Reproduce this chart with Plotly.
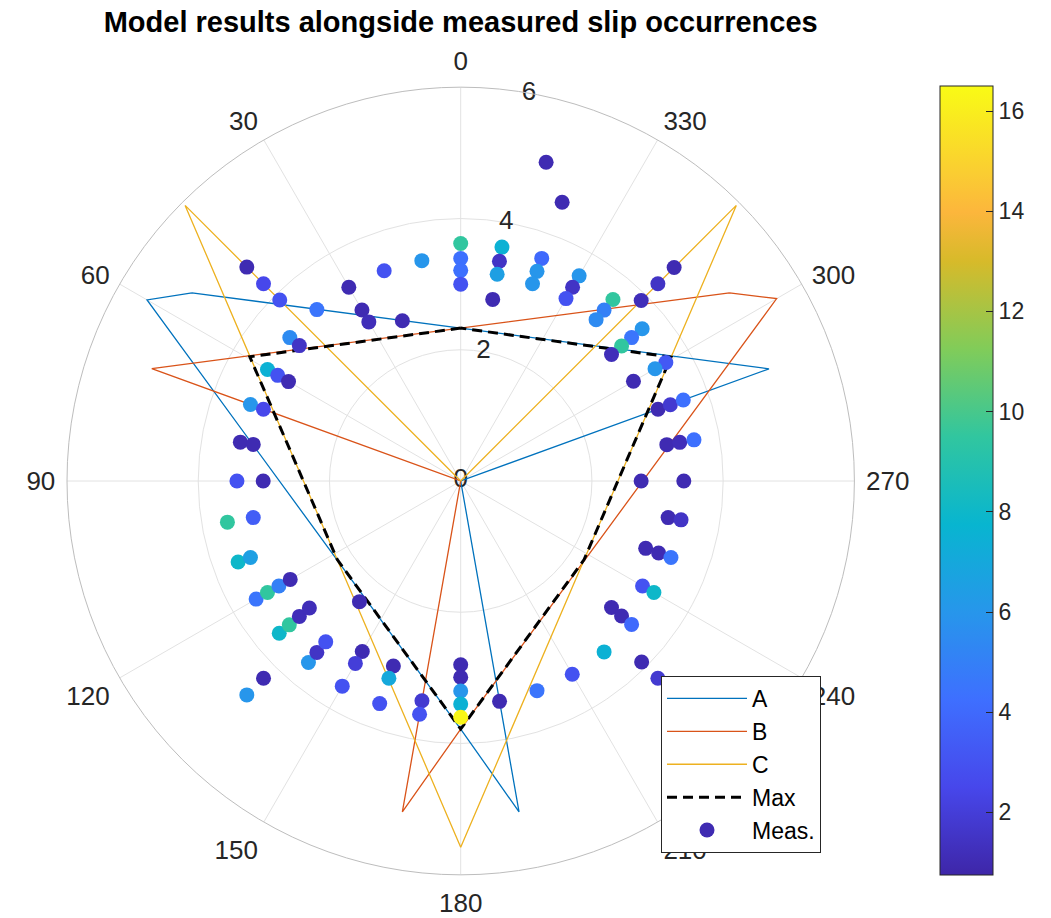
import plotly.graph_objects as go

# ---------------- data ----------------
tick_angles = [0, 30, 60, 90, 120, 150, 180, 210, 240, 270, 300, 330]
tick_labels = [str(a) for a in tick_angles]
radial_ticks = [0, 2, 4, 6]

# model curves (vertices, degrees / radius)
a_theta = [55, 60, 180, 190, 240, 290, 55]
a_r = [5.00, 5.52, 3.78, 5.12, 0.0, 5.00, 5.00]

b_theta = [305, 300, 180, 170, 120, 70, 305]
b_r = [5.00, 5.56, 3.78, 5.12, 0.0, 5.01, 5.00]

c_theta = [0, 45, 180, 315, 0]
c_r = [0.0, 5.94, 5.58, 5.94, 0.0]

max_theta = [0, 59.5, 122.5, 180, 237.5, 300.5, 360]
max_r = [2.33, 3.73, 2.23, 3.78, 2.23, 3.72, 2.33]

# measured slip occurrences
meas_theta = [345, 340, 340, 340, 340,
              0, 0, 0, 0,
              10, 20, 20, 30, 30, 30, 40,
              45, 45, 45, 50, 50, 60, 60, 60, 70, 70, 80, 80, 90, 90,
              100, 100, 110, 110, 120, 120, 120, 120,
              130, 130, 130, 130, 135, 135, 140, 140, 140, 140,
              150, 150, 150, 160, 160, 160, 170, 170,
              180, 180, 180, 180, 180, 190, 200, 210, 220, 225, 225,
              230, 230, 230, 240, 240, 250, 250, 250, 260, 260, 270, 270,
              280, 280, 280, 290, 290, 290, 300, 300, 300,
              310, 310, 310, 310, 315, 315, 315, 320, 320, 320,
              330, 330, 330, 350, 350, 350, 350]
meas_r = [5.03, 4.52, 3.61, 3.40, 3.20,
          3.62, 3.39, 3.21, 3.00,
          3.41, 3.41, 2.60, 3.41, 3.01, 2.80, 3.41,
          3.90, 4.25, 4.61, 3.40, 3.21, 3.40, 3.22, 3.03, 3.41, 3.20, 3.41, 3.21, 3.41, 3.01,
          3.61, 3.21, 3.61, 3.41, 3.60, 3.40, 3.20, 3.00,
          3.61, 3.41, 3.21, 3.01, 4.25, 4.61, 3.61, 3.41, 3.20, 2.40,
          3.00, 3.21, 3.61, 3.00, 3.20, 3.61, 3.40, 3.61,
          2.80, 2.99, 3.20, 3.40, 3.60, 3.41, 3.40, 3.40, 3.40, 3.90, 4.25,
          3.00, 3.20, 3.40, 3.20, 3.40, 3.00, 3.21, 3.41, 3.21, 3.41, 2.75, 3.40,
          3.19, 3.39, 3.61, 3.20, 3.40, 3.61, 3.61, 3.42, 3.04,
          3.61, 3.40, 3.20, 3.00, 3.89, 4.25, 4.60, 3.61, 3.40, 3.21,
          3.61, 3.41, 3.21, 3.62, 3.40, 3.20, 2.81]
meas_value = [1.0, 1.0, 4.0, 6.0, 6.0,
              9.5, 4.3, 4.3, 3.0,
              6.0, 3.0, 1.0, 1.0, 1.0, 1.2, 4.5,
              3.0, 2.5, 1.0, 5.5, 1.5, 7.5, 3.0, 1.0, 6.0, 2.5, 1.0, 1.0, 3.0, 1.0,
              9.5, 3.5, 8.0, 6.5, 4.5, 9.5, 5.0, 1.0,
              8.0, 9.5, 1.2, 1.2, 1.0, 6.0, 6.0, 1.5, 3.0, 1.0,
              1.0, 2.0, 3.0, 1.0, 7.0, 3.0, 1.8, 3.0,
              1.0, 1.0, 6.0, 7.5, 16.3, 1.0, 4.5, 3.0, 7.5, 1.0, 1.8,
              1.0, 1.0, 4.0, 3.0, 8.0, 1.0, 1.0, 4.5, 1.0, 1.5, 1.0, 1.0,
              1.0, 1.2, 4.3, 1.0, 1.8, 4.3, 3.3, 6.0, 1.0,
              6.0, 4.5, 9.5, 1.2, 1.2, 1.5, 1.0, 9.5, 5.0, 5.5,
              6.0, 1.5, 3.0, 7.5, 1.5, 6.5, 1.0]

# ---------------- style ----------------
parula = [
    [0.0, 'rgb(62,38,168)'],
    [0.111, 'rgb(71,71,235)'],
    [0.222, 'rgb(62,111,255)'],
    [0.333, 'rgb(39,150,235)'],
    [0.444, 'rgb(8,181,208)'],
    [0.556, 'rgb(49,198,159)'],
    [0.667, 'rgb(129,204,89)'],
    [0.778, 'rgb(215,186,42)'],
    [0.84, 'rgb(252,182,60)'],
    [0.889, 'rgb(250,205,50)'],
    [1.0, 'rgb(249,251,21)'],
]
FONT = "Liberation Sans, Arial, Helvetica, sans-serif"
TXT = '#262626'
W, H = 1051, 918
cx, cy, R = 460.7, 481.0, 393.7

fig = go.Figure()

fig.add_trace(go.Scatterpolar(r=radial_ticks, theta=[350] * len(radial_ticks),
                              text=[str(v) for v in radial_ticks], mode='text',
                              textfont=dict(size=26, color=TXT, family=FONT),
                              showlegend=False, hoverinfo='skip', cliponaxis=False))

for name, th, rr, col in [('A', a_theta, a_r, '#0072BD'),
                          ('B', b_theta, b_r, '#D95319'),
                          ('C', c_theta, c_r, '#EDB120')]:
    fig.add_trace(go.Scatterpolar(r=rr, theta=th, mode='lines', name=name,
                                  legendgroup=name,
                                  line=dict(color=col, width=1.3)))

fig.add_trace(go.Scatterpolar(r=max_r, theta=max_theta, mode='lines', name='Max',
                              legendgroup='Max',
                              line=dict(color='black', width=3, dash='10px,6px')))

fig.add_trace(go.Scatterpolar(
    r=meas_r, theta=meas_theta, mode='markers', name='Meas.', legendgroup='Meas',
    marker=dict(size=15, color=meas_value, colorscale=parula, cmin=0.75, cmax=16.5,
                line=dict(width=0),
                showscale=True,
                colorbar=dict(x=940 / W, xanchor='left', y=1 - 480.5 / H, yanchor='middle',
                              xpad=0, ypad=0,
                              thickness=53, thicknessmode='pixels',
                              len=789, lenmode='pixels',
                              outlinecolor=TXT, outlinewidth=1,
                              tickvals=[2, 4, 6, 8, 10, 12, 14, 16],
                              ticks='inside', ticklen=7, tickcolor=TXT,
                              tickfont=dict(size=23, color=TXT, family=FONT)))))

fig.update_layout(
    width=W, height=H,
    margin=dict(l=0, r=0, t=0, b=0),
    paper_bgcolor='white',
    font=dict(family=FONT, color=TXT),
    title=dict(text='<b>Model results alongside measured slip occurrences</b>',
               x=cx / W, xanchor='center', y=1 - 22 / H, yanchor='middle',
               font=dict(size=29, color='black', family=FONT)),
    polar=dict(
        domain=dict(x=[(cx - R) / W, (cx + R) / W], y=[1 - (cy + R) / H, 1 - (cy - R) / H]),
        bgcolor='white',
        angularaxis=dict(rotation=90, direction='counterclockwise',
                         tickmode='array', tickvals=tick_angles, ticktext=tick_labels,
                         ticks='outside', ticklen=6, tickcolor='rgba(0,0,0,0)',
                         showline=True, linecolor='#bdbdbd', linewidth=1,
                         gridcolor='#e2e2e2', gridwidth=1,
                         tickfont=dict(size=26, color=TXT, family=FONT)),
        radialaxis=dict(range=[0, 6], tickvals=radial_ticks, showticklabels=False,
                        ticks='', showline=False, angle=80,
                        gridcolor='#e2e2e2', gridwidth=1),
    ),
    legend=dict(x=661 / W, y=1 - 676 / H, xanchor='left', yanchor='top',
                bgcolor='white', bordercolor=TXT, borderwidth=1,
                font=dict(size=23, color='black', family=FONT),
                itemwidth=80, tracegroupgap=0),
    showlegend=True,
)

fig.write_html("out.html")
